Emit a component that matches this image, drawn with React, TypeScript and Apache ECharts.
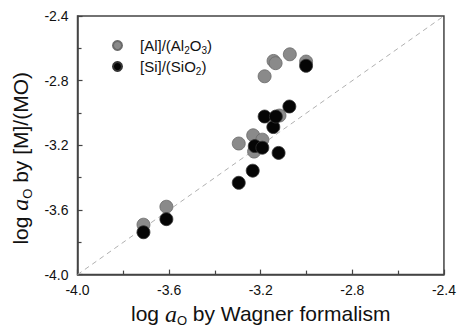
import React, { useEffect, useRef } from "react";
import * as echarts from "echarts";

const alX = [-3.712, -3.612, -3.296, -3.233, -3.193, -3.229, -3.183, -3.144, -3.135, -3.073, -3.002, -3.118];
const alY = [-3.691, -3.580, -3.189, -3.138, -3.165, -3.239, -2.773, -2.678, -2.692, -2.637, -2.682, -3.016];
const siX = [-3.712, -3.612, -3.296, -3.235, -3.226, -3.193, -3.122, -3.145, -3.183, -3.134, -3.075, -3.002];
const siY = [-3.738, -3.657, -3.432, -3.357, -3.205, -3.215, -3.247, -3.087, -3.022, -3.022, -2.960, -2.708];
const diagX = [-4.0, -2.4];
const axisMin = -4.0;
const axisMax = -2.4;
const axisStep = 0.4;

const FONT = "Liberation Sans, Arial, sans-serif";

export default function App() {
  const ref = useRef<HTMLDivElement>(null);
  useEffect(() => {
    if (!ref.current) return;
    const chart = echarts.init(ref.current, undefined, { renderer: "svg" });
    const nameRich = {
      base: { fontSize: 21, fontFamily: FONT, color: "#111" },
      it: { fontSize: 24, fontFamily: "Liberation Serif, Times New Roman, serif", fontStyle: "italic", color: "#111" },
      sub: { fontSize: 13, fontFamily: FONT, color: "#111", padding: [14, 0, 0, 0] },
    };
    const axisCommon = {
      type: "value",
      min: axisMin,
      max: axisMax,
      interval: axisStep,
      axisLine: { show: true, onZero: false, lineStyle: { color: "#444", width: 1.5 } },
      axisTick: { show: true, inside: true, length: 5, lineStyle: { color: "#444", width: 1.2 } },
      minorTick: { show: true, splitNumber: 2, length: 4, lineStyle: { color: "#444", width: 1.2 } },
      splitLine: { show: false },
      axisLabel: {
        fontSize: 14,
        fontFamily: FONT,
        color: "#111",
        formatter: (v: number) => v.toFixed(1),
      },
      nameLocation: "middle",
    };
    chart.setOption({
      animation: false,
      backgroundColor: "#fff",
      grid: { left: 76, right: 13, top: 16, bottom: 53, show: true, borderColor: "#444", borderWidth: 1.5, backgroundColor: "transparent" },
      legend: {
        show: true,
        orient: "vertical",
        left: 107,
        top: 33,
        itemWidth: 9,
        itemHeight: 9,
        itemGap: 4,
        icon: "circle",
        data: ["[Al]/(Al2O3)", "[Si]/(SiO2)"],
        formatter: (n: string) => (n.startsWith("[Al]") ? "[Al]/(Al{sub|2}O{sub|3})" : "[Si]/(SiO{sub|2})"),
        textStyle: {
          fontSize: 15,
          fontFamily: FONT,
          color: "#111",
          padding: [0, 0, 0, 13],
          rich: { sub: { fontSize: 10, fontFamily: FONT, color: "#111", padding: [9, 0, 0, 0] } },
        },
      },
      xAxis: {
        ...axisCommon,
        axisLabel: { ...axisCommon.axisLabel, margin: 8 },
        name: "{base|log }{it|a}{sub|O}{base| by Wagner formalism}",
        nameGap: 21,
        nameTextStyle: { rich: nameRich },
      },
      yAxis: {
        ...axisCommon,
        axisLabel: { ...axisCommon.axisLabel, margin: 9 },
        name: "{base|log }{it|a}{sub|O}{base| by [M]/(MO)}",
        nameGap: 40,
        nameTextStyle: { rich: nameRich, padding: [0, 26, 0, 0] },
      },
      series: [
        {
          type: "line",
          data: diagX.map((v) => [v, v]),
          symbol: "none",
          silent: true,
          z: 1,
          lineStyle: { color: "#b0b0b0", width: 1, type: [5, 4] },
        },
        {
          name: "[Al]/(Al2O3)",
          type: "scatter",
          z: 2,
          symbolSize: 13,
          data: alX.map((x, i) => [x, alY[i]]),
          itemStyle: { color: "#8a8a8a", borderColor: "#6a6a6a", borderWidth: 0.8, opacity: 1 },
        },
        {
          name: "[Si]/(SiO2)",
          type: "scatter",
          z: 3,
          symbolSize: 13,
          data: siX.map((x, i) => [x, siY[i]]),
          itemStyle: { color: "#050505", borderColor: "#333", borderWidth: 0.8, opacity: 1 },
        },
      ],
    });
    return () => chart.dispose();
  }, []);
  return <div ref={ref} style={{ position: "fixed", left: 0, top: 0, width: 459, height: 332 }} />;
}
